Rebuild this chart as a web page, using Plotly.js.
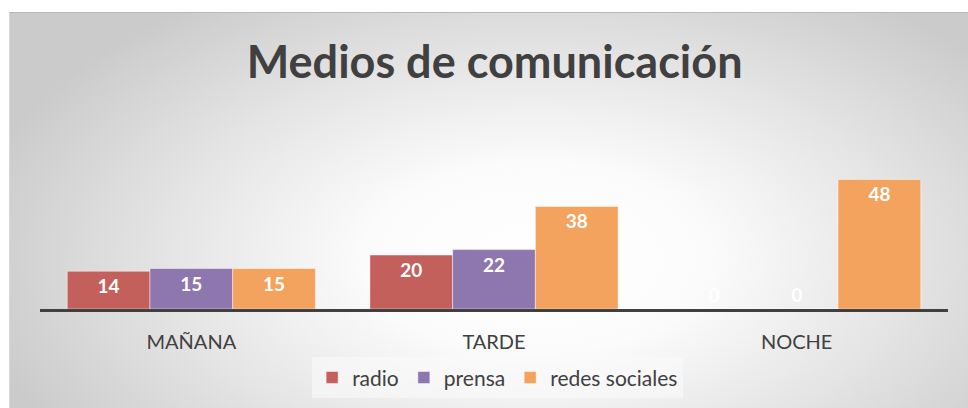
<!DOCTYPE html>
<html>
<head>
<meta charset="utf-8">
<script src="https://cdn.plot.ly/plotly-3.0.1.min.js"></script>
<style>
  body { margin: 0; background: #fff; }
  #frame {
    position: absolute; left: 9px; top: 12px; width: 959px; height: 396px;
    box-sizing: border-box; border-top: 1px solid #b8b8b8; border-left: 1px solid #d8d8d8;
    background: radial-gradient(ellipse 60% 80% at 55% 62%, #ffffff 0%, #fbfbfb 30%, #e4e4e4 65%, #cbcbcb 100%);
  }
  #chart { position: absolute; left: 0; top: 0; width: 968px; height: 408px; }
</style>
</head>
<body>
<div id="frame"></div>
<div id="chart"></div>
<script>
const categories = ['MAÑANA', 'TARDE', 'NOCHE'];
const radio = [14, 20, 0];
const prensa = [15, 22, 0];
const redesSociales = [15, 38, 48];

const font = 'Lato, "Open Sans", sans-serif';

function series(name, values, color) {
  const labelFont = { family: font, size: 19, color: 'white', weight: 'bold' };
  return {
    name: name,
    x: categories,
    y: values,
    type: 'bar',
    text: values.map(String),
    // zero bars have no room inside, so their label sits just above the axis
    textposition: values.map(v => (v === 0 ? 'outside' : 'inside')),
    insidetextanchor: 'end',
    textfont: labelFont,
    insidetextfont: labelFont,
    outsidetextfont: labelFont,
    cliponaxis: false,
    marker: { color: color, line: { color: 'rgba(255,255,255,0.45)', width: 1 } },
    hoverinfo: 'x+y+name'
  };
}

const data = [
  series('radio', radio, '#c4605c'),
  series('prensa', prensa, '#8e76ae'),
  series('redes sociales', redesSociales, '#f4a35e')
];

const layout = {
  width: 968,
  height: 408,
  title: {
    text: '<b>Medios de comunicación</b>',
    font: { family: font, size: 45, color: '#404040' },
    x: 0.511, xanchor: 'center',
    y: 0.848, yref: 'container', yanchor: 'middle'
  },
  barmode: 'group',
  bargap: 0.18,
  bargroupgap: 0,
  xaxis: {
    showline: true,
    linecolor: '#404040',
    linewidth: 3,
    ticks: 'outside',
    ticklen: 13,
    tickcolor: 'rgba(0,0,0,0)',
    tickfont: { family: font, size: 20, color: '#404040' },
    showgrid: false,
    zeroline: false
  },
  yaxis: {
    range: [0, 50],
    visible: false,
    showgrid: false,
    zeroline: false
  },
  showlegend: true,
  legend: {
    orientation: 'h',
    x: 0.504, xanchor: 'center',
    y: 0.074, yref: 'container', yanchor: 'middle',
    bgcolor: 'rgba(250,250,250,0.6)',
    font: { family: font, size: 21, color: '#404040' },
    itemwidth: 30,
    itemclick: false
  },
  paper_bgcolor: 'rgba(0,0,0,0)',
  plot_bgcolor: 'rgba(0,0,0,0)',
  margin: { t: 174, b: 99, l: 40, r: 20 }
};

Plotly.newPlot('chart', data, layout, { displayModeBar: false });
</script>
</body>
</html>
